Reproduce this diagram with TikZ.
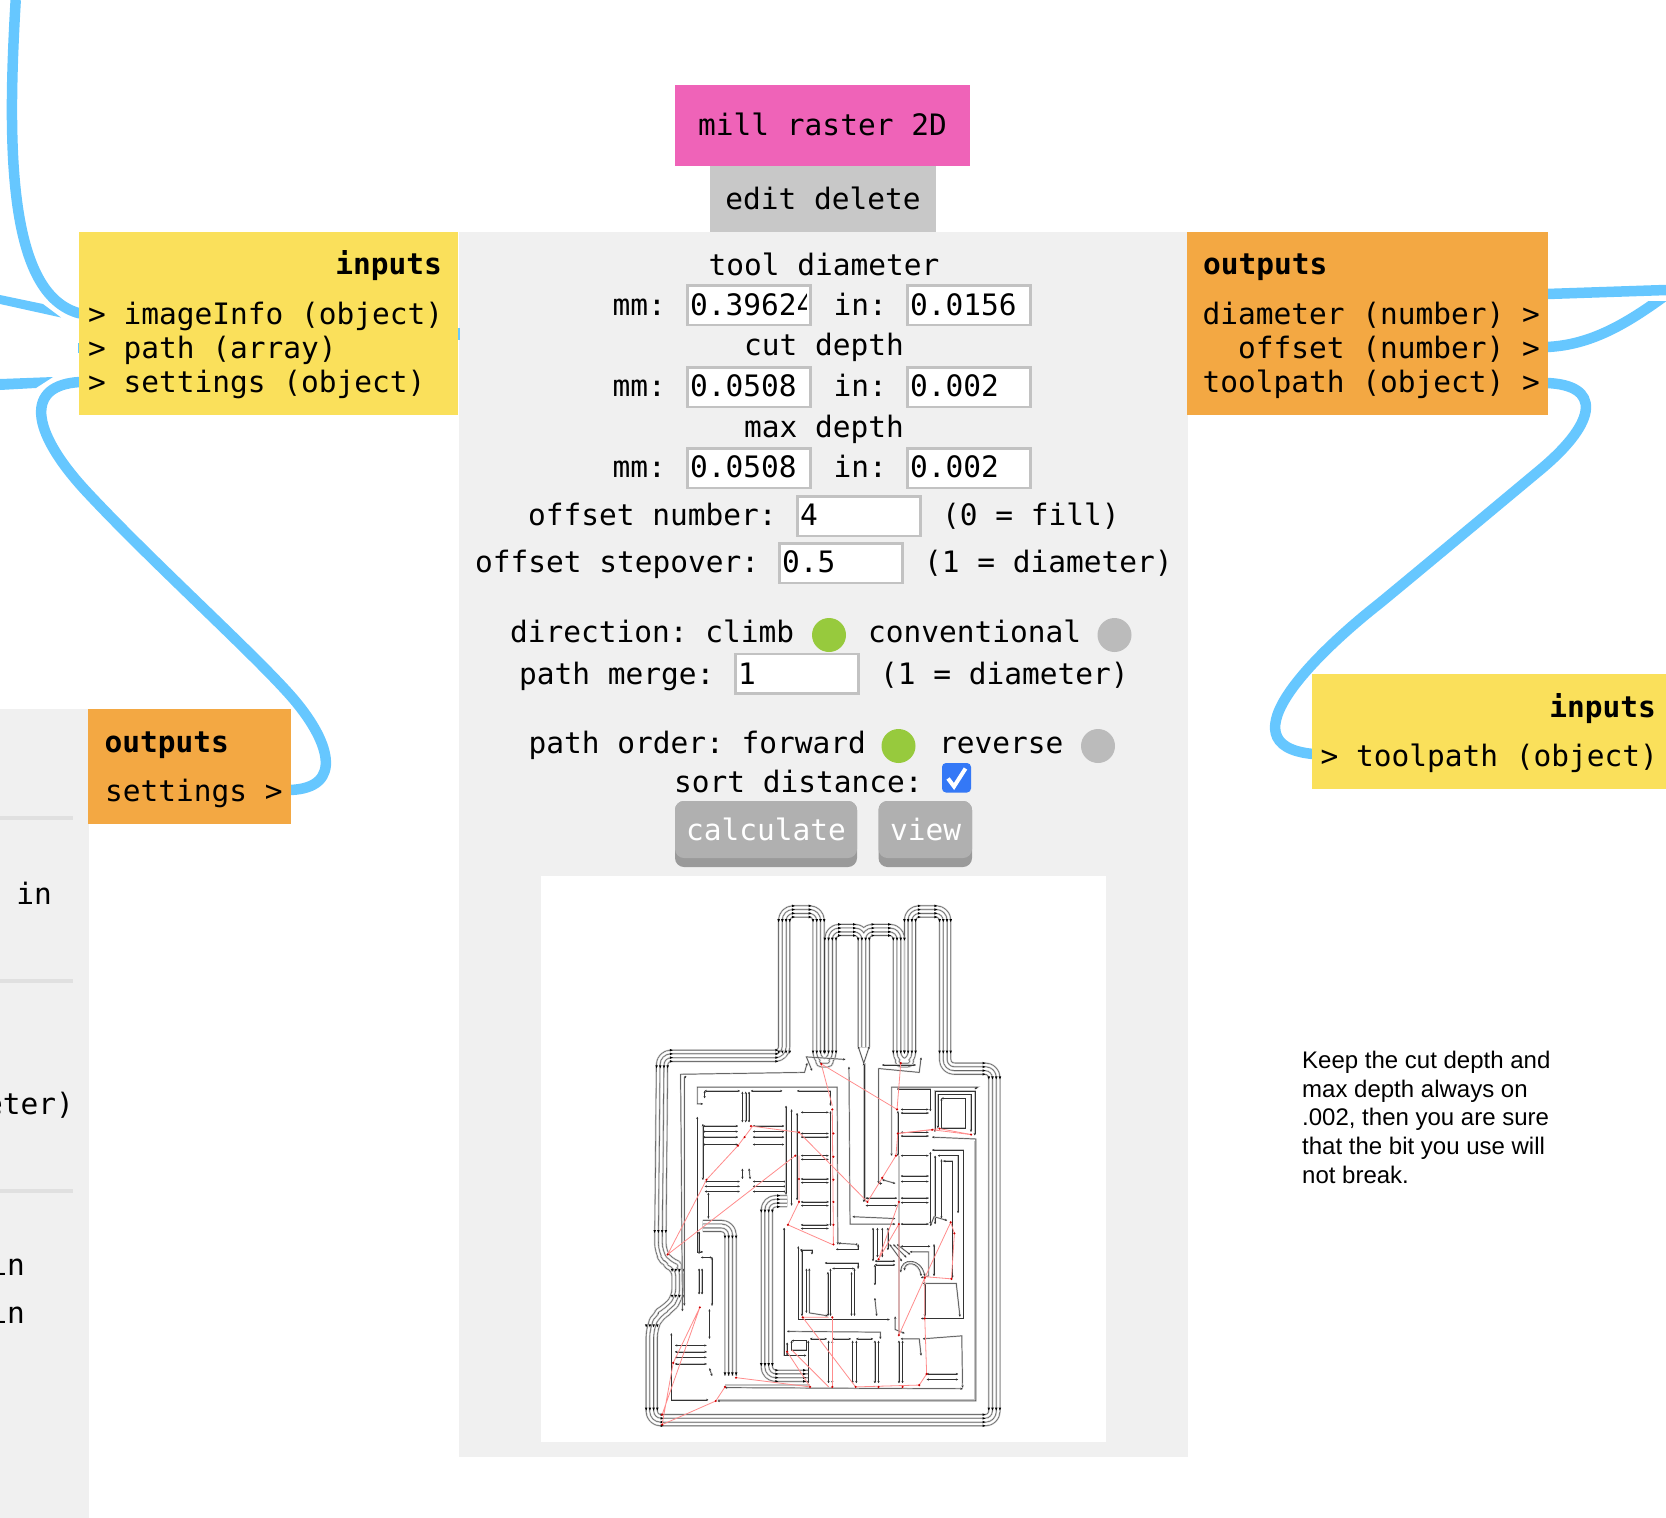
\documentclass[tikz,border=0pt]{standalone}
\usepackage{fontspec}
\setmonofont{DejaVu Sans Mono}
\setmainfont{Liberation Sans}
\usetikzlibrary{arrows.meta}
\definecolor{wire}{HTML}{66C7FF}
\definecolor{yel}{HTML}{FAE05B}
\definecolor{org}{HTML}{F3A843}
\definecolor{pnk}{HTML}{EF63B8}
\definecolor{panel}{HTML}{F0F0F0}
\definecolor{hdr}{HTML}{C8C8C8}
\definecolor{ibord}{HTML}{C2C2C2}
\definecolor{grn}{HTML}{97CA3D}
\definecolor{off}{HTML}{BBBBBB}
\definecolor{btn}{HTML}{B0B0B0}
\definecolor{btnd}{HTML}{9A9A9A}
\definecolor{chk}{HTML}{3478F6}
\definecolor{sepl}{HTML}{E0E0E0}
\definecolor{lg}{HTML}{C4C4C4}
\definecolor{lk}{HTML}{333333}
\definecolor{rd}{HTML}{FF8C8C}
\tikzset{
  blk/.style={anchor=north west,inner sep=0pt,outer sep=0pt,draw=none},
  mono/.style={anchor=base west,inner sep=0pt,outer sep=0pt,font=\ttfamily\fontsize{29.5}{34}\selectfont},
  monor/.style={mono,anchor=base east},
  monoc/.style={mono,anchor=base},
  bold/.style={font=\ttfamily\bfseries\fontsize{29.5}{34}\selectfont},
  inbox/.style={blk,fill=white,draw=ibord,line width=2.6pt},
  wirel/.style={wire,line width=10.5pt},
  note/.style={anchor=base west,inner sep=0pt,font=\rmfamily\fontsize{24}{28}\selectfont},
}
\newcommand\bnd[1]{\foreach \w/\c in {13.0/lg,11.6/lk,10.9/lg,9.5/white,5.6/lg,4.2/lk,3.5/lg,2.1/white}{\draw[line width=\w pt,color=\c,rounded corners=9pt,line join=round] #1;}}
\newcommand\Ln[1]{\draw[lg,line width=1.5pt] #1;\draw[lk,line width=0.45pt,{Stealth[length=2.2pt,width=2.2pt]}-{Stealth[length=2.2pt,width=2.2pt]}] #1;}
\newcommand\Rd[1]{\draw[rd,line width=0.8pt] #1;}
% small marks at the ends of corner arcs of a four-line bundle
\newcommand\hk[2]{\foreach \o in {-15,-5,5,15}{\fill[black] (#1-4,#2+\o-3.5) -- (#1+4,#2+\o) -- (#1-4,#2+\o+3.5) -- cycle;}}
\newcommand\vk[2]{\foreach \o in {-15,-5,5,15}{\fill[black] (#1+\o-3.5,#2-4) -- (#1+\o,#2+4) -- (#1+\o+3.5,#2-4) -- cycle;}}
\begin{document}
\begin{tikzpicture}[x=1pt,y=-1pt]
\useasboundingbox (0,0) rectangle (1666,1518);
% left panel
\node[blk,fill=panel,minimum width=89pt,minimum height=809pt] (leftpanel) at (0,709) {};
\foreach \n/\y in {sa/818,sb/981,sc/1191}{\node[blk,fill=sepl,minimum width=73pt,minimum height=4pt] (\n) at (0,\y-2) {};}
\node[monor] (l1) at (52,904) {in};
\node[monor] (l2) at (74,1114) {eter)};
\node[monor] (l3) at (25,1275) {in};
\node[monor] (l4) at (25,1323) {in};
% ports
\coordinate (pa) at (80,313.5);
\coordinate (pa0) at (15.7,0);
\coordinate (ps) at (80,382);
\coordinate (os) at (290,790);
\coordinate (otp) at (1547,383);
\coordinate (itp) at (1313,754);
\coordinate (od) at (1547,294);
\coordinate (odr) at (1666,290);
\coordinate (oo) at (1547,347);
\coordinate (oor) at (1666,295);
% wires
\draw[wirel] (pa0) .. controls (7,150) and (8,295) .. (pa);
\fill[wire] (0,295) -- (43,304) -- (61,317.5) -- (0,304) -- cycle;
\fill[wire] (0,379) -- (53,377) -- (36,388) -- (0,390) -- cycle;
\fill[wire] (78,343) rectangle (82,353);
\draw[wirel] (ps) .. controls (25,385) and (30,430) .. (85,490) .. controls (150,560) and (250,650) .. (290,695) .. controls (330,740) and (345,788) .. (os);
\draw[wirel] (od) -- (odr);
\begin{scope}
\clip (1540,301) rectangle (1666,400);
\draw[wirel] (oo) .. controls (1590,345) and (1625,325) .. (oor);
\end{scope}
\draw[wirel] (otp) .. controls (1600,385) and (1600,420) .. (1540,470) .. controls (1480,520) and (1420,570) .. (1380,603) .. controls (1320,650) and (1220,745) .. (itp);
% panel
\node[blk,fill=panel,minimum width=729pt,minimum height=1225pt] (main) at (459,232) {};
\node[blk,fill=pnk,minimum width=295pt,minimum height=81pt] (title) at (675,85) {};
\node[mono,anchor=base] (titlet) at (822.5,135) {mill raster 2D};
\node[blk,fill=hdr,minimum width=226pt,minimum height=66pt] (edit) at (710,166) {};
\node[mono,anchor=base] (editt) at (823,209) {edit delete};
% io boxes
\node[blk,fill=yel,minimum width=379pt,minimum height=183pt] (inb) at (79,232) {};
\node[mono,bold,anchor=base east] (inh) at (442,274.5) {inputs};
\node[mono] (in1) at (88,324) {> imageInfo (object)};
\node[mono] (in2) at (88,358.5) {> path (array)};
\node[mono] (in3) at (88,392.5) {> settings (object)};
\fill[wire] (458,328) rectangle (460,340);
\node[blk,fill=org,minimum width=361pt,minimum height=183pt] (outb) at (1187,232) {};
\node[mono,bold] (outh) at (1203,274.5) {outputs};
\node[monor] (o1) at (1540,324) {diameter (number) >};
\node[monor] (o2) at (1540,358) {offset (number) >};
\node[monor] (o3) at (1540,392.5) {toolpath (object) >};
\node[blk,fill=yel,minimum width=355pt,minimum height=115pt] (in2b) at (1311.5,674) {};
\node[mono,bold,anchor=base east] (in2h) at (1656,717) {inputs};
\node[mono] (in2a) at (1320.5,766) {> toolpath (object)};
\node[blk,fill=org,minimum width=203pt,minimum height=115pt] (ob2) at (88,709) {};
\node[mono,bold] (ob2h) at (104.5,752) {outputs};
\node[mono] (ob2a) at (105,801) {settings >};
% panel text
\node[monoc] (t1) at (824,275) {tool diameter};
\node[monoc] (t2) at (824,355.5) {cut depth};
\node[monoc] (t3) at (824,437) {max depth};
\foreach \n/\y/\bl/\a/\b in {ra/284/315/0.39624/0.0156,rb/366/396/0.0508/0.002,rc/447/477/0.0508/0.002}{
  \node[mono] (\n m) at (612.5,\bl) {mm:};
  \node[inbox,minimum width=123pt,minimum height=39.5pt] (\n a) at (687.5,\y+1.3) {};
  \begin{scope}
  \clip (688,\y) rectangle (806.5,\y+40);
  \node[mono] (\n at) at (690,\bl) {\a};
  \end{scope}
  \node[mono] (\n i) at (833.5,\bl) {in:};
  \node[inbox,minimum width=123pt,minimum height=39.5pt] (\n b) at (907.5,\y+1.3) {};
  \node[mono] (\n bt) at (910,\bl) {\b};
}
\node[mono] (on) at (528,525.5) {offset number:};
\node[inbox,minimum width=123pt,minimum height=39.5pt] (onb) at (797.7,496.3) {};
\node[mono] (onv) at (800,525.5) {4};
\node[mono] (onn) at (942,525.5) {(0 = fill)};
\node[mono] (os2) at (475,572.5) {offset stepover:};
\node[inbox,minimum width=123pt,minimum height=39.5pt] (osb) at (779.7,543.3) {};
\node[mono] (osv) at (782,572.5) {0.5};
\node[mono] (osn) at (924,572.5) {(1 = diameter)};
\node[mono] (dr) at (510,642.5) {direction: climb};
\node[circle,fill=grn,minimum size=34pt,inner sep=0pt] (dc) at (829,635) {};
\node[mono] (dcv) at (868,642.5) {conventional};
\node[circle,fill=off,minimum size=34pt,inner sep=0pt] (dv) at (1114.5,635) {};
\node[mono] (pm) at (519,684) {path merge:};
\node[inbox,minimum width=123pt,minimum height=39.5pt] (pmb) at (735.5,654) {};
\node[mono] (pmv) at (738,684) {1};
\node[mono] (pmn) at (880,684) {(1 = diameter)};
\node[mono] (po) at (528.5,753) {path order: forward};
\node[circle,fill=grn,minimum size=34pt,inner sep=0pt] (pf) at (898.5,746) {};
\node[mono] (pr) at (939,753) {reverse};
\node[circle,fill=off,minimum size=34pt,inner sep=0pt] (prc) at (1098,746) {};
\node[mono] (sd) at (674,792) {sort distance:};
\node[blk,fill=chk,rounded corners=4pt,minimum width=29pt,minimum height=29.5pt] (cb) at (942,763) {};
\draw[white,line width=4pt] (948,778.5) -- (954,786.5) -- (965.5,768.5);
% buttons
\node[blk,fill=btnd,rounded corners=9pt,minimum width=182pt,minimum height=66pt] (bc) at (675,801) {};
\node[blk,fill=btn,rounded corners=9pt,minimum width=182pt,minimum height=57pt] (bct) at (675,801) {};
\node[mono,text=white] (bctx) at (686,840) {calculate};
\node[blk,fill=btnd,rounded corners=9pt,minimum width=93.5pt,minimum height=66pt] (bv) at (878.5,801) {};
\node[blk,fill=btn,rounded corners=9pt,minimum width=93.5pt,minimum height=57pt] (bvt) at (878.5,801) {};
\node[mono,text=white] (bvtx) at (890,840) {view};
% image
\node[blk,fill=white,minimum width=565.5pt,minimum height=565.5pt] (img) at (540.5,876) {};
\node[note] (n1) at (1302,1068) {Keep the cut depth and};
\node[note] (n2) at (1302,1097) {max depth always on};
\node[note] (n3) at (1302,1125) {.002, then you are sure};
\node[note] (n4) at (1302,1154) {that the bit you use will};
\node[note] (n5) at (1302,1183) {not break.};
% board
\begin{scope}[shift={(540,880)},x=0.37pt,y=-0.37pt]
\bnd{(875,452) -- (875,135) -- (785,135) -- (785,490) -- (753,490) -- (753,85) -- (660,85) -- (660,475) -- (330,475) -- (325,1005) -- (345,1035) -- (372,1045) -- (372,1130) -- (345,1160) -- (320,1175) -- (302,1210) -- (302,1460) -- (1228,1460) -- (1228,510) -- (1095,510) -- (1095,85) -- (1000,85) -- (1000,490) -- (970,490) -- (970,135) -- (875,135) -- (875,452)}
\bnd{(668,868) -- (613,868) -- (613,1340) -- (725,1340)}
\bnd{(440,935) -- (515,935) -- (515,1340)}
% corner marks
\foreach \x/\y in {330/505,660/110,753/110,660/465,785/160,875/160,970/160,785/465,753/465,970/465,1000/465,1000/110,1095/110,1095/465,1228/535,1228/1430,302/1430,302/1205,372/1055,372/1125,325/950,613/895,613/1310,515/965,515/1335}{\vk{\x}{\y}}
\foreach \x/\y in {355/475,640/475,685/85,730/85,810/135,850/135,900/135,945/135,1025/85,1070/85,1200/510,1200/1460,330/1460,645/868,640/1340,715/1340}{\hk{\x}{\y}}
% V and long centre line
\Ln{(860,450) -- (875,495) -- (890,450)}
\Ln{(875,495) -- (875,870)}
\draw[lg,line width=1pt] (879,495) -- (879,870);
% inner contours
\Ln{(385,1165) -- (380,525) -- (715,520) -- (722,495)}
\Ln{(390,1150) -- (390,535) -- (395,530)}
\Ln{(835,505) -- (838,930) -- (960,930)}
\Ln{(825,485) -- (720,478) -- (735,515)}
\Ln{(805,985) -- (803,560) -- (425,560) -- (425,605) -- (440,605)}
\Ln{(445,570) -- (445,590)}
\Ln{(445,570) -- (540,570)}
\Ln{(570,570) -- (655,570)}
\Ln{(695,570) -- (785,570) -- (785,610)}
\Ln{(547,572) -- (547,655)}
\Ln{(556,572) -- (556,655)}
\Ln{(565,572) -- (565,655)}
\foreach \y in {665,680,695,715}{\Ln{(440,\y) -- (535,\y)}\Ln{(575,\y) -- (660,\y)}}
\Ln{(425,640) -- (425,1005) -- (440,1005)}
\Ln{(440,660) -- (440,810)}
\foreach \y in {815,828,842}{\Ln{(445,\y) -- (540,\y)}\Ln{(575,\y) -- (665,\y)}}
\Ln{(547,780) -- (547,808)}
\Ln{(565,780) -- (568,808)}
\Ln{(455,845) -- (455,915)}
% pad column left
\Ln{(665,610) -- (665,850)}
\Ln{(680,620) -- (680,880)}
\Ln{(695,630) -- (695,865)}
\foreach \y in {628,685,695,745,755,808,818,870,880,932,942}{\Ln{(705,\y) -- (780,\y)}}
\Ln{(785,625) -- (785,935)}
\Ln{(660,940) -- (660,1285) -- (720,1285)}
\Ln{(668,1220) -- (920,1222) -- (920,1240)}
\Ln{(860,985) -- (810,982) -- (810,985)}
\Ln{(860,985) -- (860,998) -- (800,998)}
% block mid
\Ln{(698,990) -- (698,1188) -- (945,1188)}
\Ln{(708,1000) -- (708,1178)}
\Ln{(703,1000) -- (735,1000) -- (735,1012)}
\Ln{(720,1050) -- (720,1170)}
\Ln{(728,1050) -- (728,1170) -- (778,1178)}
\Ln{(770,1035) -- (860,1035) -- (860,1050)}
\Ln{(790,1050) -- (850,1050)}
\Ln{(785,1050) -- (785,1178)}
\Ln{(778,1060) -- (778,1178)}
\Ln{(850,1050) -- (850,1178)}
\Ln{(842,1060) -- (842,1178)}
\Ln{(905,1040) -- (905,1095)}
\Ln{(905,1130) -- (910,1178)}
% bottom cols
\foreach \a/\b in {730/775,790/840,855/900}{\Ln{(\a,1240) -- (\b,1240)}}
\foreach \a in {725,780,790,845,855,905,915,970,980}{\Ln{(\a,1245) -- (\a,1360)}}
\Ln{(668,1250) -- (668,1285)}
\Ln{(680,1245) -- (720,1245) -- (720,1270) -- (680,1270) -- (680,1245)}
\Ln{(975,1240) -- (1025,1240) -- (1030,1285)}
\Ln{(1035,1240) -- (1140,1232) -- (1142,1372)}
\Ln{(1045,1335) -- (1130,1335)}
\Ln{(1045,1350) -- (1130,1350)}
\Ln{(500,1372) -- (1142,1375)}
\draw[lg,line width=1.2pt] (500,1365) -- (730,1365);
% bottom left cluster
\Ln{(355,1225) -- (355,1405) -- (455,1405)}
\foreach \y in {1258,1275,1290,1308}{\Ln{(365,\y) -- (450,\y)}}
\Ln{(458,1160) -- (458,1240)}
\Ln{(458,1320) -- (465,1340)}
\Ln{(465,1020) -- (465,1150)}
\Ln{(435,1020) -- (465,1020)}
\Ln{(430,950) -- (430,1010)}
\Ln{(430,1050) -- (430,1120)}
\Ln{(438,1050) -- (438,1120)}
\Ln{(480,1408) -- (1178,1408) -- (1178,700) -- (1060,695)}
\draw[lg,line width=1.4pt] (1174,705) -- (1174,1404) -- (480,1404);
% right cluster
\Ln{(950,745) -- (950,560) -- (1183,560) -- (1175,565)}
\Ln{(965,565) -- (1055,565) -- (1055,625)}
\foreach \y in {620,630,682,692,745,800,815,860,872,930}{\Ln{(975,\y) -- (1050,\y)}}
\Ln{(1085,590) -- (1150,590) -- (1150,670) -- (1085,670) -- (1085,590)}
\Ln{(1075,670) -- (1075,580) -- (1165,580) -- (1165,680)}
\Ln{(1067,680) -- (1067,570) -- (1175,570) -- (1175,690)}
\Ln{(915,820) -- (915,510) -- (920,510) -- (1025,520) -- (1030,480)}
\Ln{(925,500) -- (1015,500)}
\Ln{(925,810) -- (960,820)}
\Ln{(915,820) -- (925,820)}
\Ln{(880,860) -- (965,860)}
\Ln{(880,880) -- (965,880)}
\Ln{(967,625) -- (967,745)}
\draw[lg,line width=1.6pt] (970,745) -- (970,1230);
\Ln{(1060,730) -- (1145,730) -- (1145,1185) -- (1030,1185)}
\Ln{(1075,745) -- (1130,745) -- (1130,900)}
\Ln{(1090,760) -- (1115,760) -- (1115,1075)}
\Ln{(1055,735) -- (1055,930)}
\Ln{(1068,745) -- (1068,930)}
\Ln{(1085,755) -- (1085,915)}
\Ln{(1035,1090) -- (1125,1090) -- (1135,1180)}
\Ln{(1040,1090) -- (1040,1180)}
% arch
\Ln{(975,1060) .. controls (975,1020) and (1030,1020) .. (1040,1070)}
\Ln{(985,1055) .. controls (985,1030) and (1025,1030) .. (1030,1070)}
\Ln{(945,985) -- (978,1030)}
\Ln{(955,985) -- (990,1020)}
\Ln{(965,985) -- (1000,1012)}
\Ln{(975,990) -- (1055,990)}
\Ln{(1000,1005) -- (1050,1005) -- (1050,1070) -- (1030,1075)}
\Ln{(1065,985) -- (1065,1070)}
\foreach \a/\b in {900/1030,912/1020,925/1020,940/1000}{\Ln{(\a,940) -- (\a,\b)}}
\Ln{(845,910) -- (960,915)}
\Ln{(960,1180) -- (960,1215) -- (985,1225)}
\Ln{(905,1040) -- (960,1040)}
\Ln{(905,1030) -- (960,1030)}
\Ln{(1100,920) -- (1065,910) -- (1055,935)}
% red
\Rd{(760,497) -- (790,610)}
\Rd{(760,497) -- (965,620)}
\Rd{(975,495) -- (965,620)}
\Rd{(570,665) -- (700,682) -- (885,870) -- (925,805) -- (962,745) -- (967,685) -- (1060,675) -- (1165,688)}
\Rd{(967,685) -- (1080,672) -- (1165,688)}
\Rd{(790,620) -- (793,985)}
\Rd{(690,745) -- (345,1012) -- (450,810) -- (535,718) -- (575,665)}
\Rd{(700,745) -- (700,870) -- (670,932) -- (790,985)}
\Rd{(970,870) -- (915,1025) -- (970,930) -- (970,1230) -- (1040,1075) -- (1110,925) -- (1120,955) -- (1112,1078) -- (1040,1072) -- (1040,1185) -- (1045,1335) -- (1025,1365) -- (853,1370) -- (710,1182) -- (780,1182)}
\Rd{(790,1182) -- (790,1370)}
\Rd{(668,1275) -- (730,1370)}
\Rd{(680,1270) -- (780,1370)}
\Rd{(530,1345) -- (730,1370)}
\Rd{(500,1370) -- (475,1408) -- (330,1472) -- (360,1305) -- (432,1155) -- (330,1445)}
\foreach \x/\y in {760/497,790/620,793/685,793/748,793/810,793/870,793/932,793/985,965/620,975/495,570/665,700/682,885/870,925/805,962/745,967/685,1060/675,1165/688,1080/672,690/745,345/1012,450/810,535/718,553/695,700/808,700/870,670/932,970/870,915/1025,970/930,970/1230,1040/1075,1110/925,1120/955,1112/1078,1040/1185,1045/1335,1025/1365,853/1370,915/1370,980/1370,710/1182,790/1182,790/1370,668/1275,730/1370,530/1345,500/1370,475/1408,330/1472,330/1445,360/1305,432/1155}{\fill[red!80!black] (\x,\y) circle (1.2pt);}
\end{scope}
\end{tikzpicture}
\end{document}
